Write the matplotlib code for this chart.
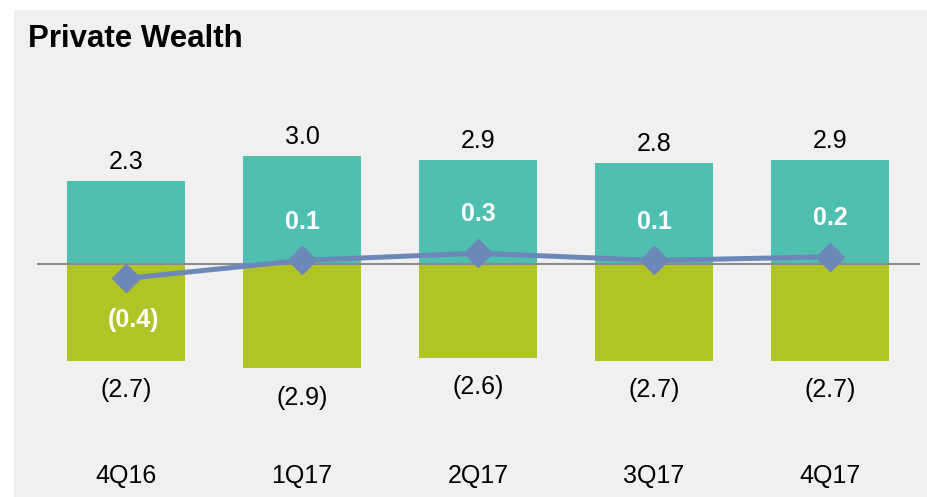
import matplotlib.pyplot as plt
from matplotlib.patches import Rectangle

plt.rcParams['font.family'] = ['Liberation Sans', 'DejaVu Sans']

# data
quarters = ['4Q16', '1Q17', '2Q17', '3Q17', '4Q17']
revenue = [2.3, 3.0, 2.9, 2.8, 2.9]
expenses = [-2.7, -2.9, -2.6, -2.7, -2.7]
net = [-0.4, 0.1, 0.3, 0.1, 0.2]

teal = '#4FBFAF'
green = '#B0C426'
blue = '#6C87B8'

fig = plt.figure(figsize=(9.28, 4.97), dpi=100, facecolor='white')
# gray panel
fig.patches.append(Rectangle((14 / 928, 0), 1, 1 - 10 / 497, transform=fig.transFigure,
                             facecolor='#F0F0F0', edgecolor='none', zorder=-5))
fig.text(28 / 928, 1 - 39 / 497, 'Private Wealth', fontsize=22.5, fontweight='bold',
         va='center', ha='left')

ax = fig.add_axes([37 / 928, 0, (920 - 37) / 928, 1], zorder=2)
ax.set_facecolor('none')
ax.set_xlim(-0.506, 4.511)
ax.set_ylim(-(497 - 264) / 36, 264 / 36)
ax.axis('off')

x = range(len(quarters))
ax.bar(x, revenue, width=0.67, color=teal, zorder=2)
ax.bar(x, expenses, width=0.67, color=green, zorder=2)
ax.axhline(0, color='#8C8C8C', lw=1.5, zorder=3)
ax.plot(x, net, color=blue, lw=3.6, marker='D', ms=14.5, zorder=4)

for i in x:
    ax.annotate(f'{revenue[i]:.1f}', (i, revenue[i]), xytext=(0, 5), textcoords='offset points',
                ha='center', va='bottom', fontsize=18)
    ax.annotate(f'({abs(expenses[i]):.1f})', (i, expenses[i]), xytext=(0, -21),
                textcoords='offset points', ha='center', va='center', fontsize=18)
    lbl = f'({abs(net[i]):.1f})' if net[i] < 0 else f'{net[i]:.1f}'
    dy = -30 if net[i] < 0 else 28
    dx = 5 if net[i] < 0 else 0
    ax.annotate(lbl, (i, net[i]), xytext=(dx, dy), textcoords='offset points',
                ha='center', va='center', fontsize=18, fontweight='bold', color='white', zorder=5)
    ax.text(i, -5.89, quarters[i], ha='center', va='center', fontsize=18)

fig.savefig('out.png', dpi=100)
